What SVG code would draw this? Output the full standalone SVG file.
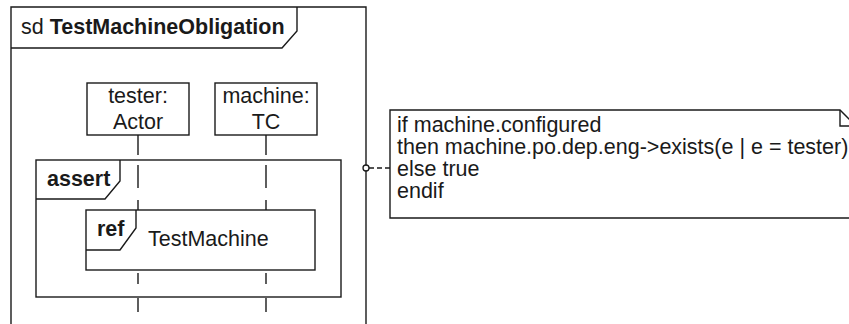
<svg xmlns="http://www.w3.org/2000/svg" width="849" height="324" viewBox="0 0 849 324">
  <style>
    .txt { font-family: "Liberation Sans", Arial, Helvetica, sans-serif; font-size: 21.5px; fill: #1a1a1a; }
    .b { font-weight: bold; }
    .frame { fill: none; stroke: #1a1a1a; stroke-width: 1.4; }
    .box { fill: #ffffff; stroke: #1a1a1a; stroke-width: 1.4; }
    .lifeline { fill: none; stroke: #1a1a1a; stroke-width: 1.4; }
    .link { fill: none; stroke: #1a1a1a; stroke-width: 1.3; stroke-dasharray: 5 3; }
  </style>
  <rect width="849" height="324" fill="#ffffff"/>

  <!-- sequence diagram frame -->
  <g id="frame-sd">
    <path class="frame" d="M11,330 V7 H366 V330"/>
    <path class="frame" d="M11,48 H282 L297,31 V7"/>
    <text class="txt" x="21" y="34">sd <tspan class="b">TestMachineObligation</tspan></text>
  </g>

  <!-- lifelines -->
  <g id="lifeline-tester">
    <path class="lifeline" d="M138,135 V155 M138,165 V188 M138,200 V210 M138,273 V284 M138,298 V312"/>
    <rect class="box" x="87" y="83" width="102" height="52"/>
    <text class="txt" x="138" y="103" text-anchor="middle">tester:</text>
    <text class="txt" x="138" y="129" text-anchor="middle">Actor</text>
  </g>
  <g id="lifeline-machine">
    <path class="lifeline" d="M266,135 V155 M266,165 V188 M266,200 V210 M266,273 V284 M266,298 V312"/>
    <rect class="box" x="215" y="83" width="102" height="52"/>
    <text class="txt" x="266" y="103" text-anchor="middle">machine:</text>
    <text class="txt" x="266" y="129" text-anchor="middle">TC</text>
  </g>

  <!-- assert fragment -->
  <g id="fragment-assert">
    <rect class="frame" x="36" y="160" width="305" height="137" stroke-width="1.8"/>
    <path class="frame" d="M36,199 H105 L120,181 V160"/>
    <text class="txt b" x="47" y="186">assert</text>
  </g>

  <!-- interaction use -->
  <g id="ref-testmachine">
    <rect class="box" x="86" y="210" width="229" height="60"/>
    <path class="frame" d="M86,250 H120 L136,228 V210"/>
    <text class="txt b" x="97" y="236">ref</text>
    <text class="txt" x="148" y="246">TestMachine</text>
  </g>

  <!-- constraint note -->
  <g id="note-constraint">
    <path class="box" d="M390,110 H840 L856,126 V218 H390 Z"/>
    <path class="frame" d="M840,110 V126 H856"/>
    <text class="txt" x="397" y="132">if machine.configured</text>
    <text class="txt" x="397" y="154">then machine.po.dep.eng-&gt;exists(e | e = tester)</text>
    <text class="txt" x="397" y="176">else true</text>
    <text class="txt" x="397" y="198">endif</text>
  </g>

  <!-- connectors -->
  <g id="connectors">
    <line class="link" x1="369" y1="168" x2="390" y2="168"/>
    <circle cx="366" cy="168" r="3" fill="#ffffff" stroke="#1a1a1a" stroke-width="1.3"/>
  </g>
</svg>
